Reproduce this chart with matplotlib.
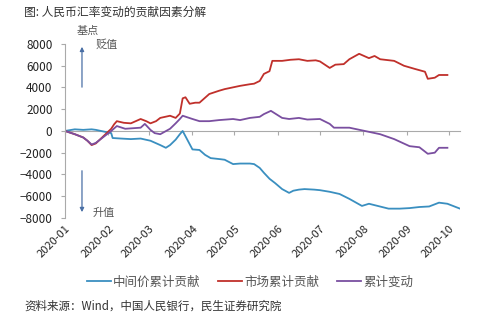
import numpy as np
import pandas as pd
import matplotlib
matplotlib.use('Agg')
import matplotlib.pyplot as plt
import matplotlib.dates as mdates

plt.rcParams['font.family'] = ['Noto Sans CJK SC', 'DejaVu Sans']

# 中间价累计贡献
blue_dates = ['2020-01-01', '2020-01-08', '2020-01-14', '2020-01-20', '2020-01-23',
              '2020-02-03', '2020-02-04', '2020-02-10', '2020-02-17', '2020-02-24',
              '2020-03-02', '2020-03-09', '2020-03-13', '2020-03-16', '2020-03-20',
              '2020-03-23', '2020-03-25', '2020-04-01', '2020-04-06', '2020-04-10',
              '2020-04-14', '2020-04-21', '2020-04-24', '2020-04-30', '2020-05-05',
              '2020-05-12', '2020-05-15', '2020-05-19', '2020-05-22', '2020-05-26',
              '2020-05-30', '2020-06-04', '2020-06-09', '2020-06-12', '2020-06-16',
              '2020-06-20', '2020-06-27', '2020-07-01', '2020-07-08', '2020-07-15',
              '2020-07-22', '2020-07-31', '2020-08-05', '2020-08-19', '2020-08-27',
              '2020-09-03', '2020-09-10', '2020-09-17', '2020-09-24', '2020-09-30',
              '2020-10-09']
blue_vals = [0, 150, 100, 150, 100,
             -200, -650, -700, -750, -700,
             -900, -1300, -1550, -1300, -800,
             -300, 0, -1700, -1750, -2200,
             -2500, -2600, -2650, -3050, -3000,
             -3000, -3050, -3400, -3850, -4400,
             -4800, -5350, -5700, -5500, -5400,
             -5350, -5400, -5450, -5600, -5800,
             -6250, -6900, -6700, -7150, -7150,
             -7100, -7000, -6950, -6600, -6700,
             -7150]

# 市场累计贡献
red_dates = ['2020-01-01', '2020-01-08', '2020-01-14', '2020-01-17', '2020-01-20',
             '2020-01-23', '2020-02-03', '2020-02-05', '2020-02-07', '2020-02-12',
             '2020-02-17', '2020-02-24', '2020-02-28', '2020-03-02', '2020-03-06',
             '2020-03-09', '2020-03-16', '2020-03-20', '2020-03-23', '2020-03-25',
             '2020-03-27', '2020-03-30', '2020-04-03', '2020-04-06', '2020-04-13',
             '2020-04-20', '2020-04-24', '2020-05-05', '2020-05-12', '2020-05-15',
             '2020-05-19', '2020-05-22', '2020-05-26', '2020-05-28', '2020-06-04',
             '2020-06-10', '2020-06-16', '2020-06-22', '2020-06-28', '2020-07-01',
             '2020-07-08', '2020-07-12', '2020-07-18', '2020-07-22', '2020-07-29',
             '2020-08-05', '2020-08-09', '2020-08-13', '2020-08-23', '2020-08-30',
             '2020-09-07', '2020-09-14', '2020-09-16', '2020-09-21', '2020-09-24',
             '2020-09-30']
red_vals = [0, -300, -600, -900, -1300,
            -1150, 200, 600, 900, 750,
            700, 1100, 900, 700, 900,
            1200, 1400, 1200, 1600, 3000,
            3100, 2500, 2600, 2600, 3400,
            3700, 3850, 4150, 4300, 4350,
            4600, 5250, 5500, 6450, 6450,
            6550, 6600, 6450, 6500, 6400,
            5800, 6100, 6150, 6600, 7100,
            6700, 6900, 6600, 6450, 6000,
            5700, 5450, 4800, 4900, 5150,
            5150]

# 累计变动
purple_dates = ['2020-01-01', '2020-01-08', '2020-01-14', '2020-01-17', '2020-01-20',
                '2020-01-23', '2020-02-03', '2020-02-07', '2020-02-13', '2020-02-24',
                '2020-02-27', '2020-03-02', '2020-03-05', '2020-03-09', '2020-03-16',
                '2020-03-20', '2020-03-23', '2020-03-25', '2020-04-01', '2020-04-06',
                '2020-04-13', '2020-04-20', '2020-04-30', '2020-05-05', '2020-05-12',
                '2020-05-19', '2020-05-22', '2020-05-27', '2020-06-04', '2020-06-09',
                '2020-06-16', '2020-06-22', '2020-07-01', '2020-07-08', '2020-07-11',
                '2020-07-22', '2020-08-02', '2020-08-13', '2020-08-23', '2020-09-03',
                '2020-09-10', '2020-09-16', '2020-09-21', '2020-09-24', '2020-09-30']
purple_vals = [0, -300, -600, -900, -1250,
               -1100, 0, 450, 200, 300,
               650, 100, -200, -300, 200,
               700, 1100, 1400, 1100, 900,
               900, 1000, 1100, 1000, 1200,
               1300, 1550, 1850, 1200, 1100,
               1200, 1050, 1100, 650, 300,
               300, 0, -300, -750, -1400,
               -1500, -2100, -2000, -1550, -1550]

month_ticks = pd.date_range('2020-01-01', '2020-10-01', freq='MS')

fig = plt.figure(figsize=(5.0, 3.19), dpi=100)
ax = fig.add_axes([0.13, 0.317, 0.79, 0.545])

ax.plot(pd.to_datetime(blue_dates), blue_vals, color='#3a8fc0', lw=1.3, label='中间价累计贡献')
ax.plot(pd.to_datetime(red_dates), red_vals, color='#c0302b', lw=1.3, label='市场累计贡献')
ax.plot(pd.to_datetime(purple_dates), purple_vals, color='#7a4fa0', lw=1.3, label='累计变动')

ax.set_ylim(-8000, 8000)
ax.set_xlim(pd.Timestamp('2020-01-01'), pd.Timestamp('2020-10-09'))
ax.set_yticks(np.arange(-8000, 8001, 2000))
ax.tick_params(axis='y', labelsize=8.5, length=3, pad=6, color='#aaaaaa', labelcolor='#222222')

ax.set_xticks(month_ticks)
ax.xaxis.set_major_formatter(mdates.DateFormatter('%Y-%m'))
ax.tick_params(axis='x', length=0, labelsize=8, labelcolor='#222222', pad=4)
for lbl in ax.get_xticklabels():
    lbl.set_rotation(45)
    lbl.set_ha('right')
    lbl.set_rotation_mode('anchor')

for s in ['top', 'right', 'bottom']:
    ax.spines[s].set_visible(False)
ax.spines['left'].set_color('#aaaaaa')

# zero line with month ticks (no labels)
sec = ax.secondary_xaxis(0.5)
sec.set_xticks(month_ticks)
sec.set_xticklabels([])
sec.tick_params(axis='x', length=3, color='#aaaaaa', direction='in',
                labeltop=False, labelbottom=False)
for s in sec.spines.values():
    s.set_color('#aaaaaa')

# arrows
arrow_kw = dict(arrowstyle='-|>', color='#4a6fa5', lw=0.9, mutation_scale=6)
ax.annotate('', xy=(0.043, 1.0), xytext=(0.043, 0.736), xycoords='axes fraction',
            arrowprops=arrow_kw)
ax.annotate('', xy=(0.043, 0.017), xytext=(0.043, 0.287), xycoords='axes fraction',
            arrowprops=arrow_kw)
ax.text(0.078, 0.995, '贬值', transform=ax.transAxes, fontsize=8, color='#555555',
        va='center', ha='left')
ax.text(0.071, 0.03, '升值', transform=ax.transAxes, fontsize=8, color='#555555',
        va='center', ha='left')

fig.text(88 / 500, 1 - 31 / 319, '基点', fontsize=8, color='#555555', ha='center', va='center')
fig.text(24 / 500, 1 - 12 / 319, '图: 人民币汇率变动的贡献因素分解', fontsize=8.5,
         color='#333333', ha='left', va='center')

leg = fig.legend(loc='center', bbox_to_anchor=(0.5, 1 - 282 / 319), ncol=3, frameon=False,
                 fontsize=9, handlelength=1.9, handletextpad=0.2, columnspacing=1.4)
for t in leg.get_texts():
    t.set_color('#555555')

fig.text(24 / 500, 1 - 306 / 319, '资料来源：Wind，中国人民银行，民生证券研究院', fontsize=8.3,
         color='#333333', ha='left', va='center')

fig.savefig('out.png', dpi=100)
